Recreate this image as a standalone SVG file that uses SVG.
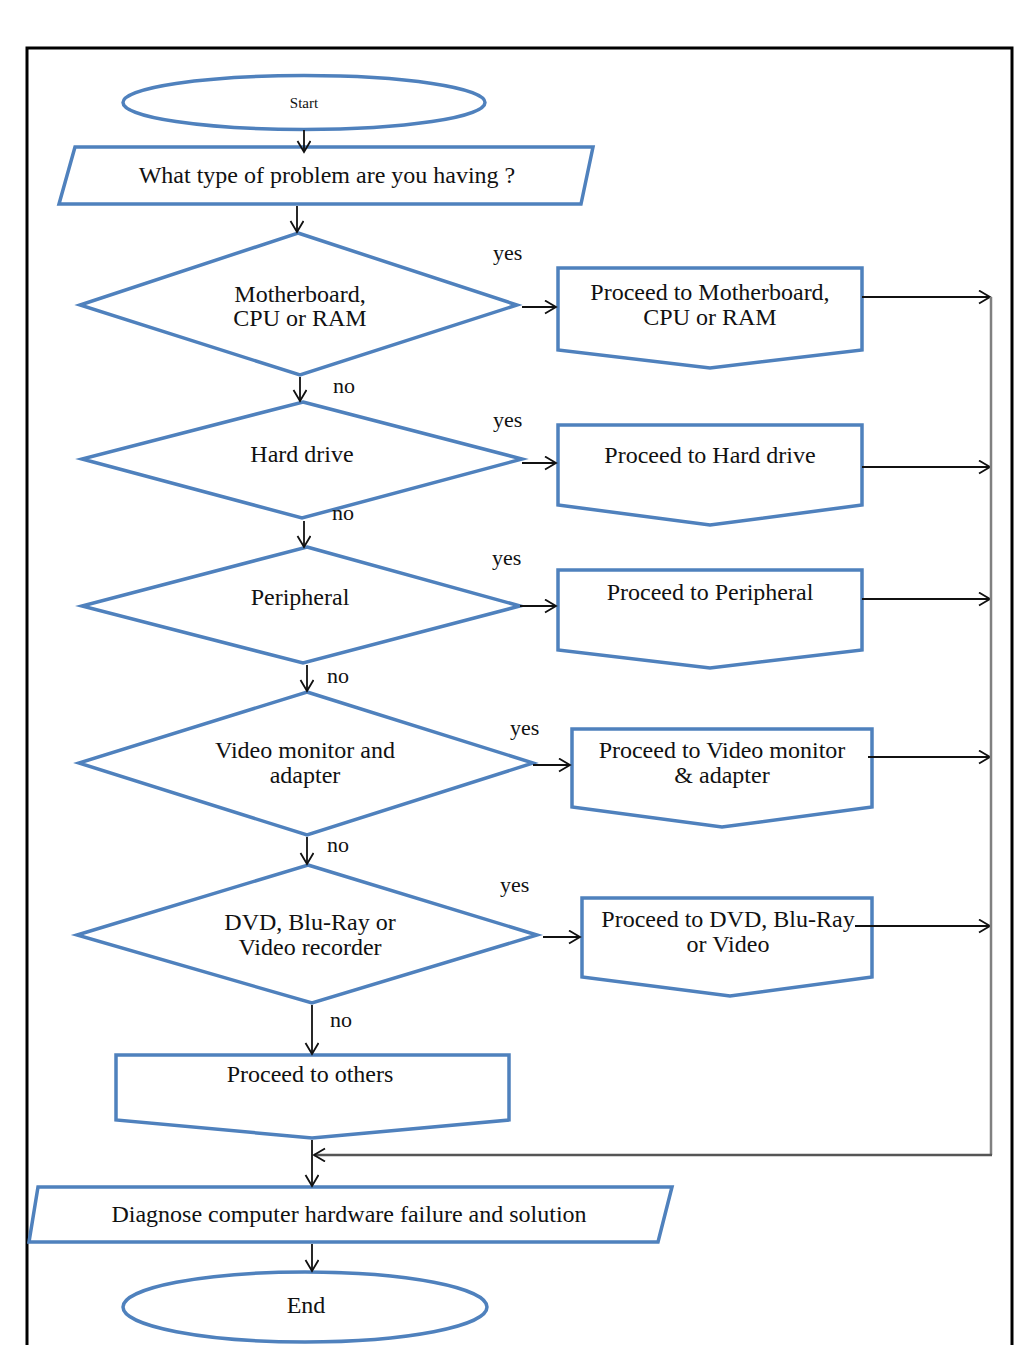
<svg xmlns="http://www.w3.org/2000/svg" width="1021" height="1345" viewBox="0 0 1021 1345">
<style>
.shape{fill:#ffffff;stroke:#4f81bd;stroke-width:3.5;stroke-linejoin:miter}
.t{font-family:"Liberation Serif","Times New Roman",serif;font-size:24px;fill:#111;text-anchor:middle}
.lbl{font-family:"Liberation Serif","Times New Roman",serif;font-size:22px;fill:#111}
.c{stroke:#111;stroke-width:1.8;fill:none}
</style>
<defs>
<marker id="ah" markerUnits="userSpaceOnUse" markerWidth="16" markerHeight="16" refX="12" refY="7" orient="auto">
<path d="M1,0.5 L12,7 L1,13.5" fill="none" stroke="#111" stroke-width="1.8"/>
</marker>
</defs>
<rect x="0" y="0" width="1021" height="1345" fill="#ffffff"/>
<rect x="27" y="48" width="985" height="1400" fill="none" stroke="#000" stroke-width="3"/>

<g id="start"><ellipse class="shape" cx="304" cy="102.5" rx="181" ry="27"/><text class="t" x="304" y="108" style="font-size:15px">Start</text></g>
<g id="question"><polygon class="shape" points="75,147 593,147 581,204 59,204"/><text class="t" x="327" y="183">What type of problem are you having ?</text></g>

<g id="d1"><polygon class="shape" points="298,233 517,305 300,375 80,305"/><text class="t" x="300" y="302">Motherboard,</text><text class="t" x="300" y="326">CPU or RAM</text></g>
<g id="d2"><polygon class="shape" points="303,402 522,459 302,518 82,459"/><text class="t" x="302" y="462">Hard drive</text></g>
<g id="d3"><polygon class="shape" points="307,547 520,606 303,663 82,606"/><text class="t" x="300" y="605">Peripheral</text></g>
<g id="d4"><polygon class="shape" points="307,692 533,763 307,835 79,763"/><text class="t" x="305" y="758">Video monitor and</text><text class="t" x="305" y="783">adapter</text></g>
<g id="d5"><polygon class="shape" points="308,865 537,935 312,1003 77,935"/><text class="t" x="310" y="930">DVD, Blu-Ray or</text><text class="t" x="310" y="955">Video recorder</text></g>

<g id="b1"><path class="shape" d="M558,268 H862 V350 L710,368 L558,350 Z"/><text class="t" x="710" y="300">Proceed to Motherboard,</text><text class="t" x="710" y="325">CPU or RAM</text></g>
<g id="b2"><path class="shape" d="M558,425 H862 V505 L710,525 L558,505 Z"/><text class="t" x="710" y="463">Proceed to Hard drive</text></g>
<g id="b3"><path class="shape" d="M558,570 H862 V650 L710,668 L558,650 Z"/><text class="t" x="710" y="600">Proceed to Peripheral</text></g>
<g id="b4"><path class="shape" d="M572,729 H872 V807 L722,827 L572,807 Z"/><text class="t" x="722" y="758">Proceed to Video monitor</text><text class="t" x="722" y="783">&amp; adapter</text></g>
<g id="b5"><path class="shape" d="M582,898 H872 V977 L730,996 L582,977 Z"/><text class="t" x="728" y="927">Proceed to DVD, Blu-Ray</text><text class="t" x="728" y="952">or Video</text></g>
<g id="b6"><path class="shape" d="M116,1055 H509 V1120 L312,1138 L116,1120 Z"/><text class="t" x="310" y="1082">Proceed to others</text></g>

<g id="diagnose"><polygon class="shape" points="38,1187 672,1187 658,1242 29,1242"/><text class="t" x="349" y="1222">Diagnose computer hardware failure and solution</text></g>
<g id="end"><ellipse class="shape" cx="305" cy="1307" rx="182" ry="35"/><text class="t" x="306" y="1313">End</text></g>

<g id="connectors">
<line class="c" x1="304" y1="130" x2="304" y2="152" marker-end="url(#ah)"/>
<line class="c" x1="297" y1="206" x2="297" y2="232" marker-end="url(#ah)"/>
<line class="c" x1="300" y1="377" x2="300" y2="401" marker-end="url(#ah)"/>
<line class="c" x1="304" y1="521" x2="304" y2="547" marker-end="url(#ah)"/>
<line class="c" x1="307" y1="665" x2="307" y2="691" marker-end="url(#ah)"/>
<line class="c" x1="307" y1="837" x2="307" y2="864" marker-end="url(#ah)"/>
<line class="c" x1="312" y1="1005" x2="312" y2="1054" marker-end="url(#ah)"/>
<line class="c" x1="312" y1="1140" x2="312" y2="1186" marker-end="url(#ah)"/>
<line class="c" x1="312" y1="1244" x2="312" y2="1271" marker-end="url(#ah)"/>
<line class="c" x1="522" y1="307" x2="556" y2="307" marker-end="url(#ah)"/>
<line class="c" x1="522" y1="463" x2="556" y2="463" marker-end="url(#ah)"/>
<line class="c" x1="520" y1="606" x2="556" y2="606" marker-end="url(#ah)"/>
<line class="c" x1="533" y1="765" x2="570" y2="765" marker-end="url(#ah)"/>
<line class="c" x1="543" y1="937" x2="580" y2="937" marker-end="url(#ah)"/>
<line class="c" x1="862" y1="297" x2="990" y2="297" marker-end="url(#ah)"/>
<line class="c" x1="862" y1="467" x2="990" y2="467" marker-end="url(#ah)"/>
<line class="c" x1="862" y1="599" x2="990" y2="599" marker-end="url(#ah)"/>
<line class="c" x1="868" y1="757" x2="990" y2="757" marker-end="url(#ah)"/>
<line class="c" x1="855" y1="926" x2="990" y2="926" marker-end="url(#ah)"/>
<line x1="991" y1="297" x2="991" y2="1155" stroke="#808080" stroke-width="2.5"/>
<line x1="992" y1="1155" x2="314" y2="1155" stroke="#555" stroke-width="2.5" marker-end="url(#ah)"/>
</g>

<g id="labels">
<text class="lbl" x="493" y="260">yes</text>
<text class="lbl" x="493" y="427">yes</text>
<text class="lbl" x="492" y="565">yes</text>
<text class="lbl" x="510" y="735">yes</text>
<text class="lbl" x="500" y="892">yes</text>
<text class="lbl" x="333" y="393">no</text>
<text class="lbl" x="332" y="520">no</text>
<text class="lbl" x="327" y="683">no</text>
<text class="lbl" x="327" y="852">no</text>
<text class="lbl" x="330" y="1027">no</text>
</g>
</svg>
